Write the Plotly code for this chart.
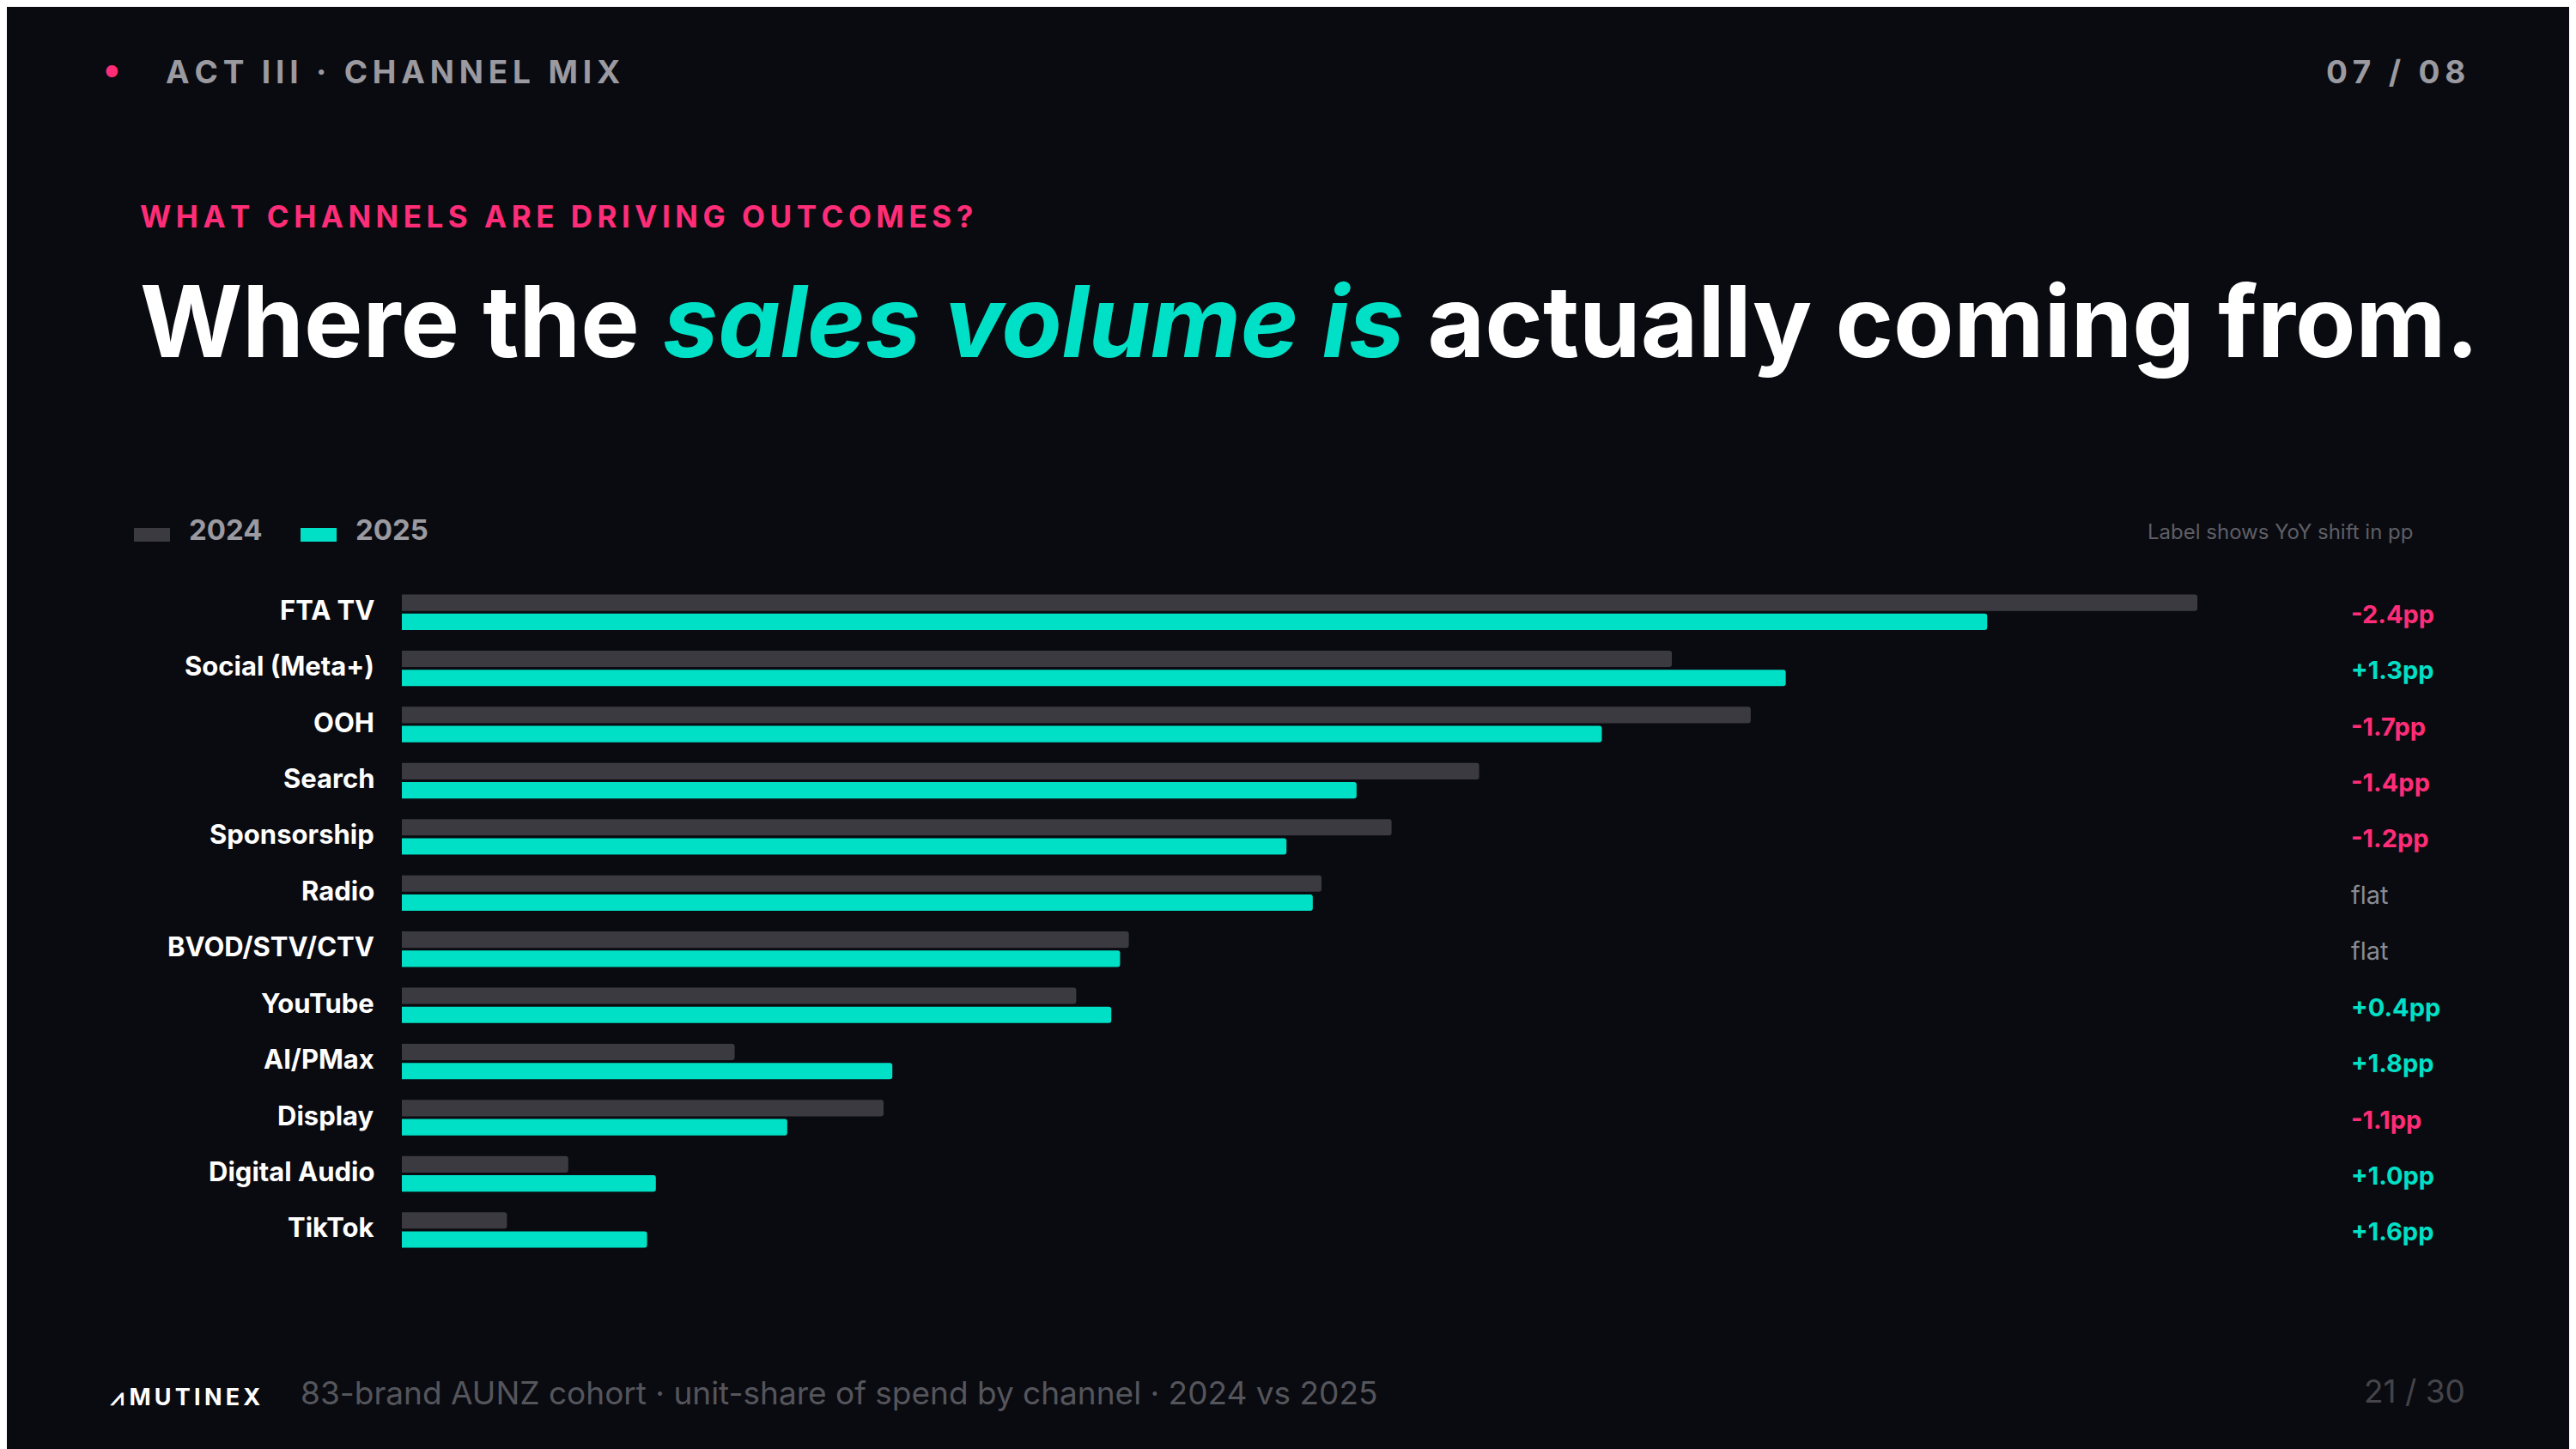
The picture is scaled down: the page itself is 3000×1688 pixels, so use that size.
import plotly.graph_objects as go

channels = ["FTA TV", "Social (Meta+)", "OOH", "Search", "Sponsorship", "Radio",
            "BVOD/STV/CTV", "YouTube", "AI/PMax", "Display", "Digital Audio", "TikTok"]
share_2024 = [20.5, 14.5, 15.4, 12.3, 11.3, 10.5, 8.3, 7.7, 3.8, 5.5, 1.9, 1.2]
share_2025 = [18.1, 15.8, 13.7, 10.9, 10.1, 10.4, 8.2, 8.1, 5.6, 4.4, 2.9, 2.8]
shift_labels = ["-2.4pp", "+1.3pp", "-1.7pp", "-1.4pp", "-1.2pp", "flat",
                "flat", "+0.4pp", "+1.8pp", "-1.1pp", "+1.0pp", "+1.6pp"]
years = ["2024", "2025"]

BG = "#0a0b10"
GREY_BAR = "#3a3a40"
TEAL = "#00e0c6"
PINK = "#ff2d78"
FONT = "Inter"
W, H = 3000, 1688


def spaced(s, sep="\u2009"):
    return sep.join(s)


fig = go.Figure()
for year, vals, col in zip(years, [share_2024, share_2025], [GREY_BAR, TEAL]):
    fig.add_trace(go.Bar(y=channels, x=vals, orientation="h", name=year,
                         marker=dict(color=col, cornerradius=3, line=dict(width=0)),
                         hoverinfo="skip"))

annotations = []
for ch, lab in zip(channels, shift_labels):
    color = "#8a8a90" if lab == "flat" else (PINK if lab.startswith("-") else TEAL)
    annotations.append(dict(x=2728 / W, xref="paper", y=ch, yref="y", xanchor="left",
                            yshift=-2, text=f"<b>{lab}</b>" if lab != "flat" else lab,
                            showarrow=False, font=dict(family=FONT, size=29, color=color)))
    annotations.append(dict(x=430 / W, xref="paper", y=ch, yref="y", xanchor="right",
                            yshift=3, text=f"<b>{ch}</b>", showarrow=False,
                            font=dict(family=FONT, size=31, color="#ffffff")))


def txt(x, y, text, size, color, xanchor="left", bold=False):
    annotations.append(dict(x=x / W, y=1 - y / H, xref="paper", yref="paper", xanchor=xanchor,
                            yanchor="middle", showarrow=False,
                            text=f"<b>{text}</b>" if bold else text,
                            font=dict(family=FONT, size=size, color=color)))


txt(122, 76, "●", 18, PINK, xanchor="center")
txt(183, 76, spaced("ACT III · CHANNEL MIX"), 37, "#9a9aa0", bold=True)
txt(2865, 76, spaced("07 / 08"), 37, "#9a9aa0", xanchor="right", bold=True)
txt(153, 244, spaced("WHAT CHANNELS ARE DRIVING OUTCOMES?"), 35, PINK, bold=True)
txt(153, 366,
    f"Where the <span style='color:{TEAL}'><i>sales volume is</i></span> actually coming from.",
    115, "#ffffff", bold=True)
txt(2804, 611, "Label shows YoY shift in pp", 24, "#5e5e66", xanchor="right")
# legend
shapes = []
for i, (year, col) in enumerate(zip(years, [GREY_BAR, TEAL])):
    x0 = 148 + i * 194
    shapes.append(dict(type="rect", xref="paper", yref="paper", x0=x0 / W, x1=(x0 + 42) / W,
                       y0=1 - 623 / H, y1=1 - 607 / H, fillcolor=col, line=dict(width=0)))
    txt(x0 + 62, 609, year, 33, "#9a9aa0", bold=True)
txt(118, 1619, "⩘ " + spaced("MUTINEX"), 27, "#ffffff", bold=True)
txt(340, 1614, "83-brand AUNZ cohort · unit-share of spend by channel · 2024 vs 2025",
    37, "#55555c")
txt(2865, 1612, "21 / 30", 37, "#44444a", xanchor="right")

fig.update_layout(
    width=W, height=H,
    margin=dict(l=0, r=0, t=0, b=0),
    paper_bgcolor=BG, plot_bgcolor=BG,
    barmode="group", bargap=0.32, bargroupgap=0.14,
    xaxis=dict(domain=[460 / W, 0.9], range=[0, 21.96], visible=False),
    yaxis=dict(domain=[0.1365, 0.6016], autorange="reversed", visible=False),
    showlegend=False,
    annotations=annotations,
    shapes=shapes,
)

fig.write_html("out.html")
